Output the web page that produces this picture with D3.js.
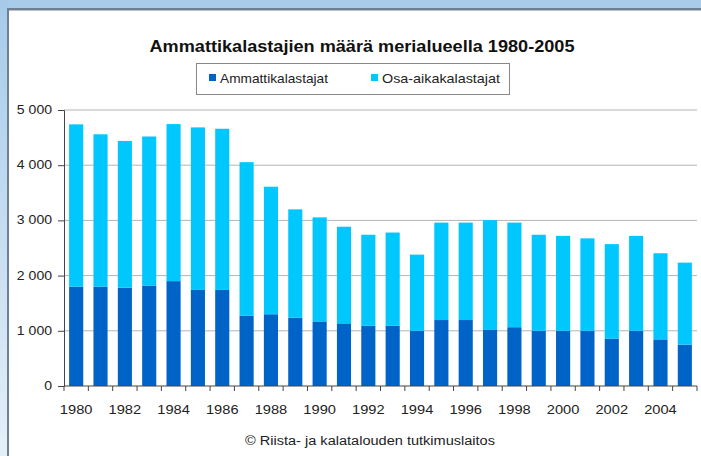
<!DOCTYPE html>
<html>
<head>
<meta charset="utf-8">
<script src="https://cdn.jsdelivr.net/npm/d3@7"></script>
<style>
  body { margin: 0; background: #fff; }
  svg { display: block; font-family: "Liberation Sans", Arial, sans-serif; }
</style>
</head>
<body>
<div id="chart"></div>
<script>
// data
var years = d3.range(1980, 2006);
var ammatti = [1800, 1800, 1780, 1820, 1900, 1740, 1740, 1275, 1300, 1235, 1170, 1135,
	1090, 1090, 1000, 1195, 1195, 1025, 1065, 1000, 1000, 1000, 860, 1000, 845, 750];
var total = [4740, 4560, 4440, 4520, 4745, 4685, 4660, 4055, 3610, 3200, 3055, 2885,
	2740, 2780, 2380, 2960, 2960, 3005, 2960, 2740, 2720, 2675, 2570, 2720, 2405, 2235];
var osa = total.map((t, i) => t - ammatti[i]);
var seriesNames = ["Ammattikalastajat", "Osa-aikakalastajat"];
var colors = ["#0063c8", "#00c8ff"];
var yTicks = [0, 1000, 2000, 3000, 4000, 5000];

var W = 701, H = 456;
var margin = { left: 64, right: 4, top: 110, bottom: 70 };

var svg = d3.select("#chart").append("svg").attr("width", W).attr("height", H);

// the reference text is drawn a bit wide, so stretch each label horizontally
function stretch(sel, f) {
	sel.each(function () {
		var len = this.getComputedTextLength();
		d3.select(this).attr("textLength", len * f).attr("lengthAdjust", "spacingAndGlyphs");
	});
}

// window frame
var defs = svg.append("defs");
var grad = defs.append("linearGradient").attr("id", "side").attr("x1", 0).attr("x2", 0).attr("y1", 0).attr("y2", 1);
grad.append("stop").attr("offset", "0%").attr("stop-color", "#a6cbe9");
grad.append("stop").attr("offset", "100%").attr("stop-color", "#e4eff9");
svg.append("rect").attr("x", 0).attr("y", 0).attr("width", W).attr("height", 8).attr("fill", "#a8cce9");
svg.append("rect").attr("x", 0).attr("y", 0).attr("width", 8).attr("height", H).attr("fill", "url(#side)");
svg.append("rect").attr("x", 8).attr("y", 8).attr("width", W - 8).attr("height", 2).attr("fill", "#6f8190");
svg.append("rect").attr("x", 8).attr("y", 10).attr("width", W - 8).attr("height", 1).attr("fill", "#b9c1c8");
svg.append("rect").attr("x", 7).attr("y", 8).attr("width", 2).attr("height", H - 8).attr("fill", "#6f8190");

// scales
var x = d3.scaleBand().domain(years).range([margin.left, W - margin.right])
	.paddingInner(0.42).paddingOuter(0.21);
var y = d3.scaleLinear().domain([0, 5000]).range([H - margin.bottom, margin.top]);

// gridlines
svg.append("g").selectAll("line").data(yTicks.filter((d) => d > 0)).join("line")
	.attr("x1", margin.left).attr("x2", W - margin.right)
	.attr("y1", (d) => y(d)).attr("y2", (d) => y(d))
	.attr("stroke", "#b4b4b4").attr("stroke-width", 1);

// stacked bars
var rows = years.map((yr, i) => ({ year: yr, a: ammatti[i], o: osa[i] }));
var stack = d3.stack().keys(["a", "o"])(rows);
svg.append("g").selectAll("g").data(stack).join("g")
	.attr("fill", (d, i) => colors[i])
	.selectAll("rect").data((d) => d).join("rect")
	.attr("x", (d) => x(d.data.year))
	.attr("width", x.bandwidth())
	.attr("y", (d) => y(d[1]))
	.attr("height", (d) => y(d[0]) - y(d[1]));

// y axis
var yAxis = svg.append("g").attr("transform", "translate(" + margin.left + ",0)")
	.call(d3.axisLeft(y).tickValues(yTicks).tickSize(6).tickPadding(0).tickFormat(""));
yAxis.select(".domain").attr("stroke", "#444");
yAxis.selectAll(".tick line").attr("stroke", "#444");
svg.append("g").selectAll("text").data(yTicks).join("text")
	.attr("x", 52).attr("y", (d) => y(d) + 4)
	.attr("text-anchor", "end").attr("font-size", 12).attr("fill", "#222")
	.text((d) => d3.format(",")(d).replace(",", " "))
	.call(stretch, 1.17);

// x axis
var step = x.step();
var bottom = y(0);
svg.append("line").attr("x1", margin.left).attr("x2", W - margin.right)
	.attr("y1", bottom).attr("y2", bottom).attr("stroke", "#444");
svg.append("g").selectAll("line").data(years.concat([2006])).join("line")
	.attr("x1", (d, i) => margin.left + i * step).attr("x2", (d, i) => margin.left + i * step)
	.attr("y1", bottom).attr("y2", bottom + 5).attr("stroke", "#444");
svg.append("g").selectAll("text").data(years.filter((d) => d % 2 === 0)).join("text")
	.attr("x", (d) => x(d) + x.bandwidth() / 2)
	.attr("y", bottom + 28)
	.attr("text-anchor", "middle").attr("font-size", 12).attr("fill", "#222")
	.text((d) => d)
	.call(stretch, 1.22);

// title
svg.append("text").attr("x", 362).attr("y", 52).attr("text-anchor", "middle")
	.attr("font-size", 16).attr("font-weight", "bold").attr("fill", "#111")
	.attr("textLength", 425).attr("lengthAdjust", "spacingAndGlyphs")
	.text("Ammattikalastajien määrä merialueella 1980-2005");

// legend
var lg = svg.append("g");
lg.append("rect").attr("x", 196.5).attr("y", 63.5).attr("width", 313).attr("height", 31)
	.attr("fill", "#fff").attr("stroke", "#888");
var legX = [209, 371];
var legW = [108, 118];
seriesNames.forEach((name, i) => {
	lg.append("rect").attr("x", legX[i]).attr("y", 74).attr("width", 7).attr("height", 7).attr("fill", colors[i]);
	lg.append("text").attr("x", legX[i] + 11).attr("y", 83).attr("font-size", 13).attr("fill", "#222")
		.attr("textLength", legW[i]).attr("lengthAdjust", "spacingAndGlyphs")
		.text(name);
});

// source
svg.append("text").attr("x", 370).attr("y", 445).attr("text-anchor", "middle")
	.attr("font-size", 12).attr("fill", "#222")
	.attr("textLength", 250).attr("lengthAdjust", "spacingAndGlyphs")
	.text("© Riista- ja kalatalouden tutkimuslaitos");
</script>
</body>
</html>
